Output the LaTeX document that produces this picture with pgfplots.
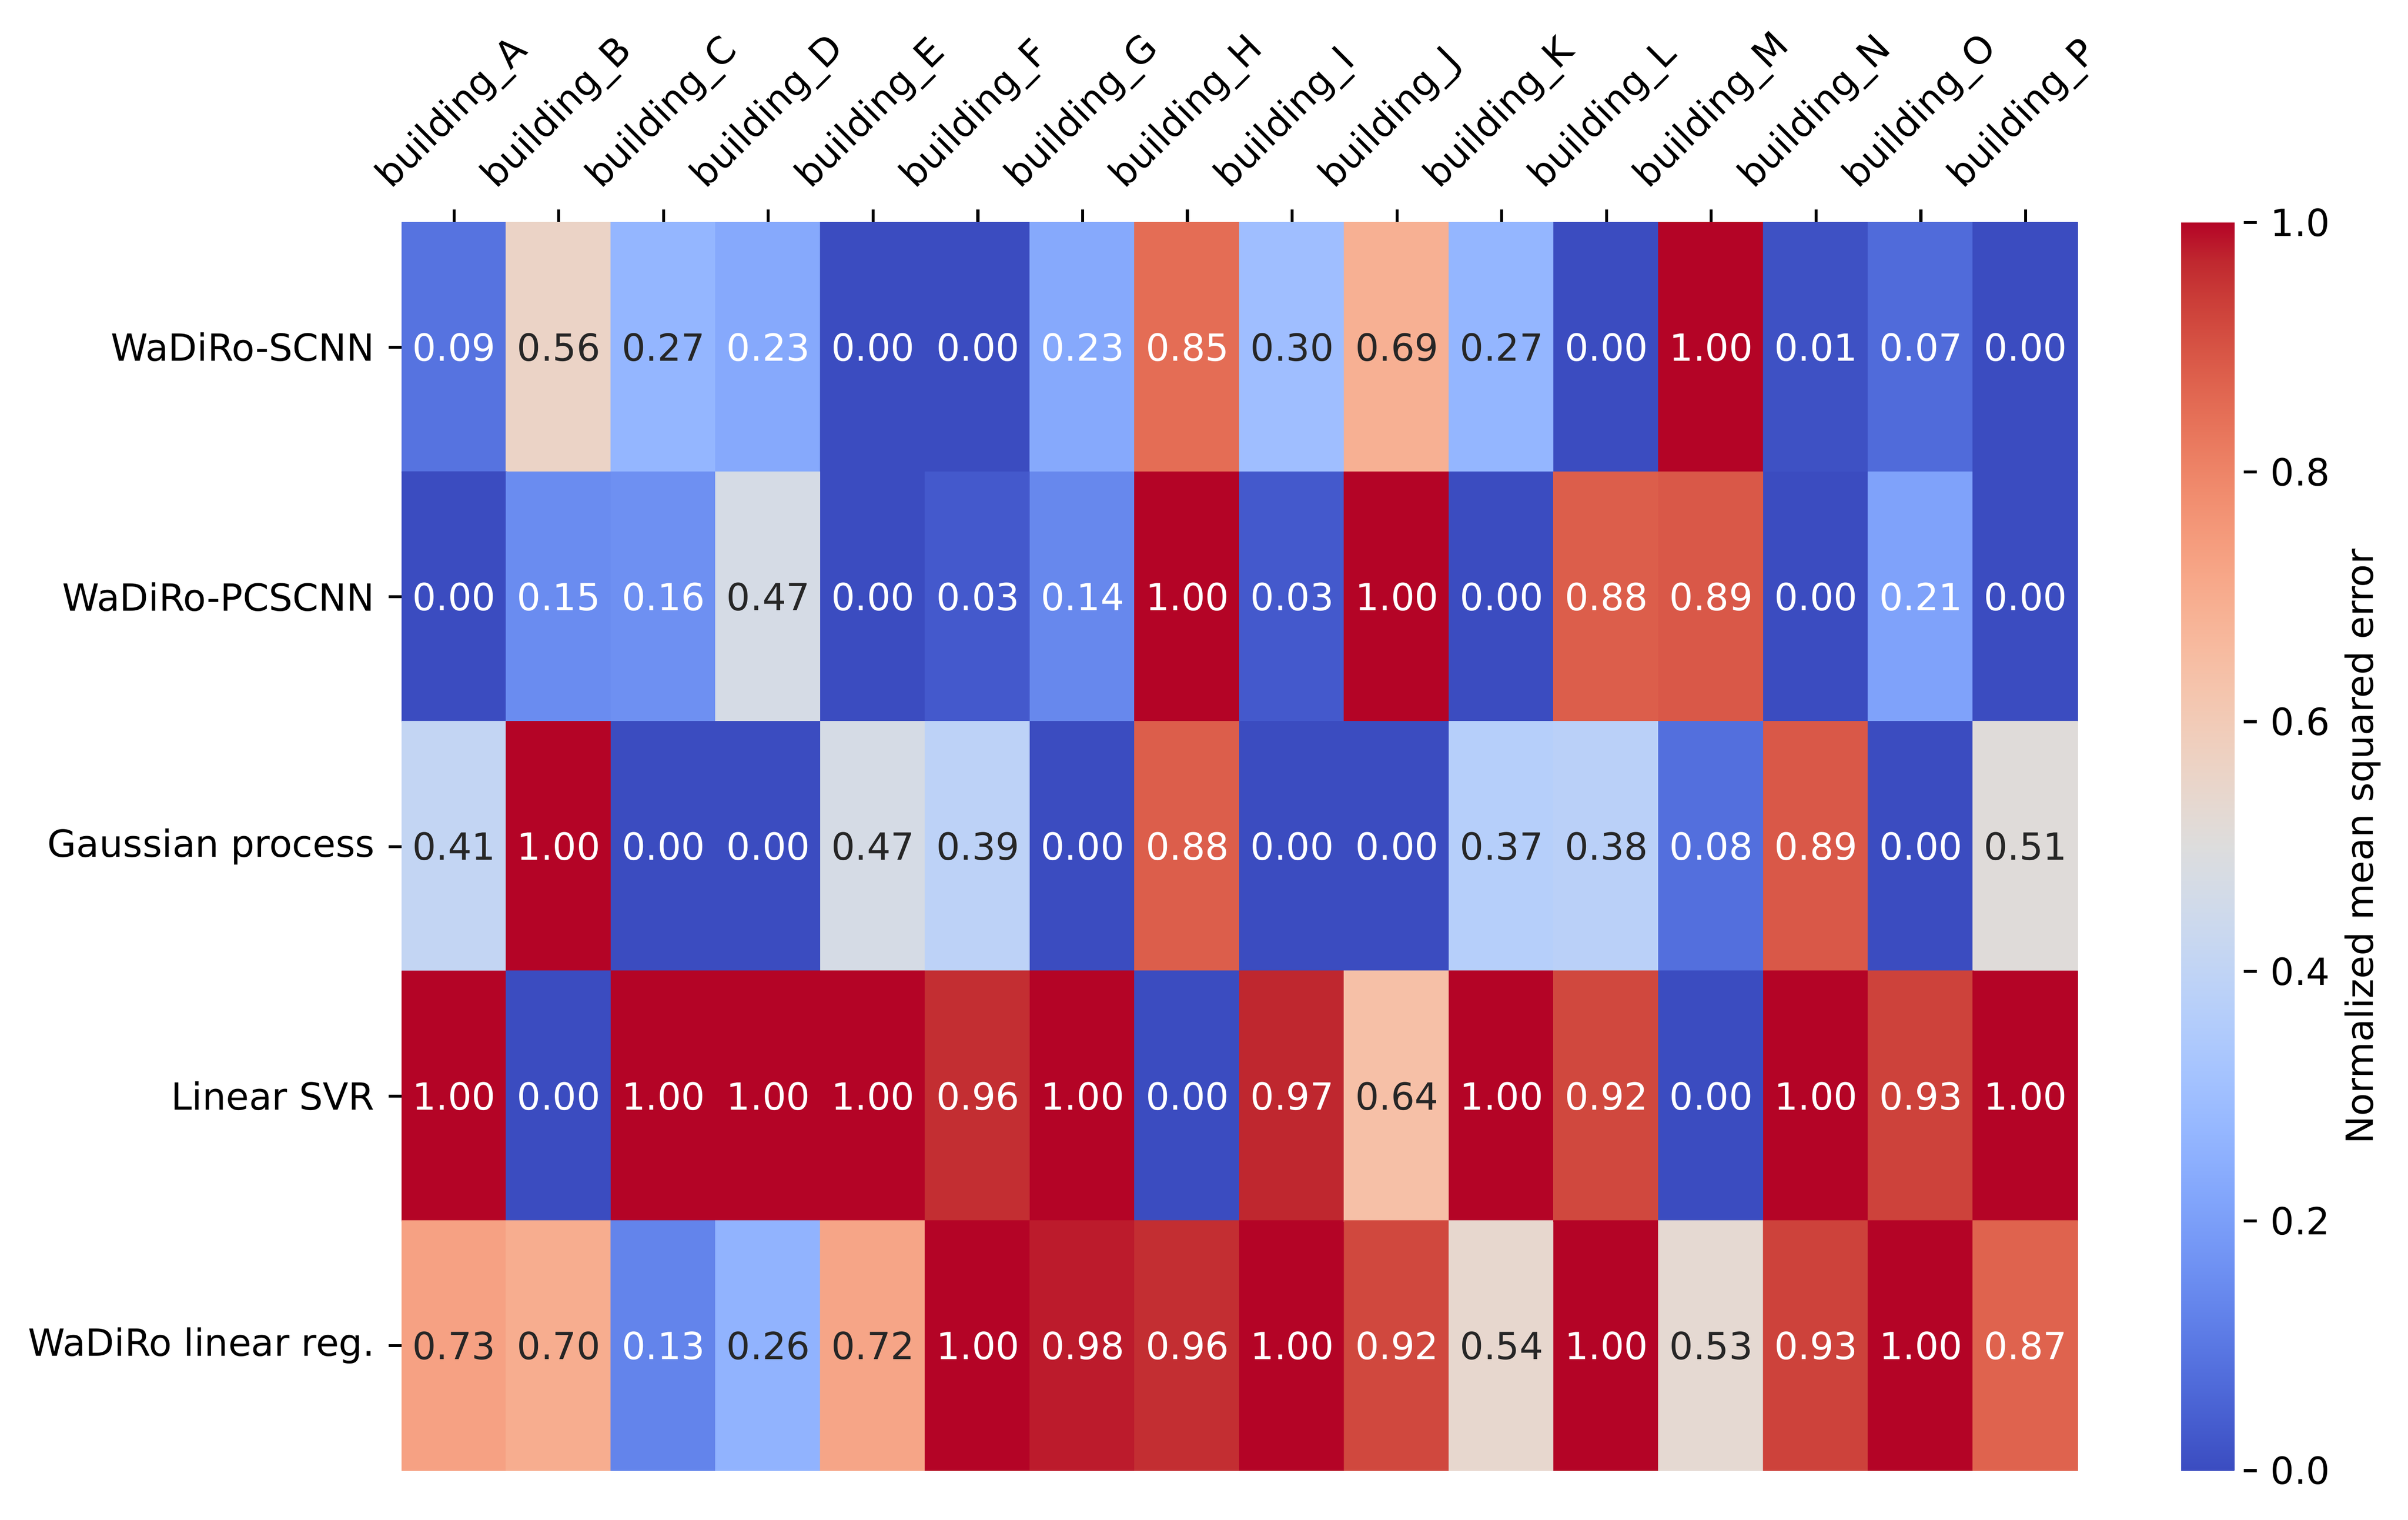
\documentclass[border=0pt]{standalone}
\usepackage{fontspec}
\setmainfont{DejaVu Sans}
\usepackage{pgfplots}
\usepackage{pgfplotstable}
\pgfplotsset{compat=1.18}
\pgfplotsset{/pgf/number format/assume math mode=true}

% matplotlib coolwarm, 33 samples
\pgfplotsset{colormap={coolwarm}{
  rgb(0pt)=(0.2298,0.2987,0.7537) rgb(1pt)=(0.2662,0.3531,0.8015)
  rgb(2pt)=(0.3039,0.4065,0.8450) rgb(3pt)=(0.3428,0.4588,0.8837)
  rgb(4pt)=(0.3830,0.5094,0.9174) rgb(5pt)=(0.4244,0.5581,0.9456)
  rgb(6pt)=(0.4667,0.6046,0.9682) rgb(7pt)=(0.5096,0.6483,0.9848)
  rgb(8pt)=(0.5530,0.6889,0.9954) rgb(9pt)=(0.5963,0.7261,0.9998)
  rgb(10pt)=(0.6392,0.7596,0.9982) rgb(11pt)=(0.6813,0.7890,0.9904)
  rgb(12pt)=(0.7222,0.8140,0.9766) rgb(13pt)=(0.7615,0.8343,0.9569)
  rgb(14pt)=(0.7987,0.8498,0.9317) rgb(15pt)=(0.8335,0.8602,0.9011)
  rgb(16pt)=(0.8654,0.8654,0.8654) rgb(17pt)=(0.8978,0.8489,0.8209)
  rgb(18pt)=(0.9241,0.8274,0.7745) rgb(19pt)=(0.9445,0.8009,0.7267)
  rgb(20pt)=(0.9589,0.7698,0.6780) rgb(21pt)=(0.9673,0.7341,0.6288)
  rgb(22pt)=(0.9700,0.6943,0.5794) rgb(23pt)=(0.9668,0.6504,0.5303)
  rgb(24pt)=(0.9580,0.6028,0.4818) rgb(25pt)=(0.9437,0.5518,0.4342)
  rgb(26pt)=(0.9239,0.4973,0.3880) rgb(27pt)=(0.8990,0.4396,0.3432)
  rgb(28pt)=(0.8692,0.3783,0.3003) rgb(29pt)=(0.8346,0.3129,0.2593)
  rgb(30pt)=(0.7956,0.2413,0.2205) rgb(31pt)=(0.7525,0.1572,0.1841)
  rgb(32pt)=(0.7057,0.0156,0.1502)
}}

% x = building (0..15), y = model (0..4), v = normalized MSE
\pgfplotstableread{
x y v
0 0 0.09
1 0 0.56
2 0 0.27
3 0 0.23
4 0 0.00
5 0 0.00
6 0 0.23
7 0 0.85
8 0 0.30
9 0 0.69
10 0 0.27
11 0 0.00
12 0 1.00
13 0 0.01
14 0 0.07
15 0 0.00
0 1 0.00
1 1 0.15
2 1 0.16
3 1 0.47
4 1 0.00
5 1 0.03
6 1 0.14
7 1 1.00
8 1 0.03
9 1 1.00
10 1 0.00
11 1 0.88
12 1 0.89
13 1 0.00
14 1 0.21
15 1 0.00
0 2 0.41
1 2 1.00
2 2 0.00
3 2 0.00
4 2 0.47
5 2 0.39
6 2 0.00
7 2 0.88
8 2 0.00
9 2 0.00
10 2 0.37
11 2 0.38
12 2 0.08
13 2 0.89
14 2 0.00
15 2 0.51
0 3 1.00
1 3 0.00
2 3 1.00
3 3 1.00
4 3 1.00
5 3 0.96
6 3 1.00
7 3 0.00
8 3 0.97
9 3 0.64
10 3 1.00
11 3 0.92
12 3 0.00
13 3 1.00
14 3 0.93
15 3 1.00
0 4 0.73
1 4 0.70
2 4 0.13
3 4 0.26
4 4 0.72
5 4 1.00
6 4 0.98
7 4 0.96
8 4 1.00
9 4 0.92
10 4 0.54
11 4 1.00
12 4 0.53
13 4 0.93
14 4 1.00
15 4 0.87
}\msedata

\definecolor{annotgray}{gray}{0.15}

\begin{document}
\begin{tikzpicture}
\begin{axis}[
    at={(107.04bp,13.08bp)}, anchor=south west,
    width=446.76bp, height=332.64bp, scale only axis,
    xmin=-0.5, xmax=15.5, ymin=-0.5, ymax=4.5,
    y dir=reverse,
    axis line style={draw=none},
    tick align=outside,
    major tick length=3.5bp,
    tick style={black, line width=0.8bp},
    xtick={0,...,15},
    xticklabels={building\_A,building\_B,building\_C,building\_D,building\_E,building\_F,building\_G,building\_H,building\_I,building\_J,building\_K,building\_L,building\_M,building\_N,building\_O,building\_P},
    xtick pos=top, xticklabel pos=top,
    xticklabel style={inner sep=0pt, anchor=south west, xshift=-15bp, yshift=3.3bp, rotate=45},
    ytick={0,...,4},
    yticklabels={WaDiRo-SCNN,WaDiRo-PCSCNN,Gaussian process,Linear SVR,WaDiRo linear reg.},
    ytick pos=left,
    yticklabel style={inner sep=0pt, anchor=east, xshift=-3.5bp},
    colormap name=coolwarm,
    point meta min=0, point meta max=1,
    colorbar,
    colorbar shift/.style={xshift=27.48bp},
    colorbar style={
        at={(parent axis.north east)}, anchor=north west,
        width=16.68bp, height=332.64bp, scale only axis,
        axis line style={draw=none},
        tick align=outside,
        major tick length=3.5bp,
        tick style={black, line width=0.8bp},
        ytick={0,0.2,0.4,0.6,0.8,1},
        ytick pos=right, yticklabel pos=right,
        yticklabel style={inner sep=0pt, anchor=west, xshift=3.5bp,
            /pgf/number format/.cd, fixed, fixed zerofill, precision=1},
        ylabel={Normalized mean squared error},
        every axis y label/.style={at={(axis description cs:3.071,0.5)}, anchor=base, rotate=90},
    },
]
\addplot[matrix plot*, mesh/cols=16, point meta=explicit]
    table[x=x, y=y, meta=v] {\msedata};
\addplot[only marks, mark=none, point meta=explicit,
    nodes near coords={\ifdim\pgfplotspointmetatransformed pt<250pt\color{white}\else\ifdim\pgfplotspointmetatransformed pt>800pt\color{white}\else\color{annotgray}\fi\fi\pgfmathprintnumber[fixed,fixed zerofill,precision=2]{\pgfplotspointmeta}},
    nodes near coords align=center,
    every node near coord/.append style={inner sep=0pt},
    ]
    table[x=x, y=y, meta=v] {\msedata};
\end{axis}
\pgfresetboundingbox
\path[use as bounding box] (0,0) rectangle (641.76bp,405bp);
\end{tikzpicture}
\end{document}
